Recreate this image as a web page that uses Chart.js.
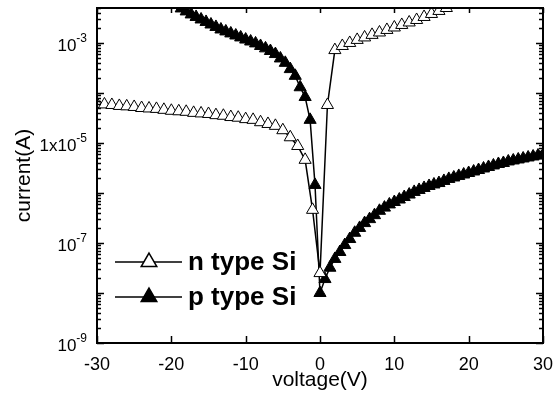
<!DOCTYPE html>
<html>
<head>
<meta charset="utf-8">
<script src="https://cdn.jsdelivr.net/npm/chart.js@4"></script>
<style>
  html, body { margin: 0; padding: 0; background: #fff; }
  #chart { display: block; }
</style>
</head>
<body>
<canvas id="chart" width="554" height="394"></canvas>
<script>
"use strict";

const FONT = "'Liberation Sans', Arial, Helvetica, sans-serif";

// n type Si (open triangles)
const nVolt = [-30, -29, -28, -27, -26, -25, -24, -23, -22, -21, -20, -19, -18, -17, -16, -15,
    -14, -13, -12, -11, -10, -9, -8, -7, -6, -5, -4, -3, -2, -1, 0,
    1, 2, 3, 4, 5, 6, 7, 8, 9, 10, 11, 12, 13, 14, 15, 16, 17, 18];
const nCurr = [6.0e-5, 5.9e-5, 5.75e-5, 5.5e-5, 5.4e-5, 5.25e-5, 5.0e-5, 4.9e-5, 4.8e-5, 4.6e-5,
    4.4e-5, 4.3e-5, 4.2e-5, 4.0e-5, 3.9e-5, 3.8e-5, 3.6e-5, 3.5e-5, 3.3e-5, 3.2e-5,
    3.0e-5, 2.9e-5, 2.6e-5, 2.4e-5, 2.2e-5, 1.8e-5, 1.3e-5, 8.7e-6, 4.6e-6, 4.6e-7, 2.5e-8,
    5.75e-5, 7.2e-4, 8.7e-4, 1.0e-3, 1.15e-3, 1.29e-3, 1.45e-3, 1.62e-3, 1.82e-3, 2.04e-3,
    2.29e-3, 2.57e-3, 2.88e-3, 3.31e-3, 3.8e-3, 4.37e-3, 5.0e-3, 5.75e-3];

// p type Si (filled triangles)
const pVolt = [-20, -19.33, -18.67, -18, -17.33, -16.67, -16, -15.33, -14.67, -14, -13.33, -12.67,
    -12, -11.33, -10.67, -10, -9.33, -8.67, -8, -7.33, -6.67, -6, -5.33, -4.67, -4, -3.33,
    -2.67, -2, -1.33, -0.67, 0,
    0.67, 1.33, 2, 2.67, 3.33, 4, 4.67, 5.33, 6, 6.67, 7.33, 8, 8.67, 9.33, 10, 10.67, 11.33,
    12, 12.67, 13.33, 14, 14.67, 15.33, 16, 16.67, 17.33, 18, 18.67, 19.33, 20, 20.67, 21.33,
    22, 22.67, 23.33, 24, 24.67, 25.33, 26, 26.67, 27.33, 28, 28.67, 29.33, 30];
const pCurr = [6.6e-3, 5.75e-3, 4.9e-3, 4.27e-3, 3.72e-3, 3.31e-3, 2.95e-3, 2.63e-3, 2.34e-3, 2.09e-3,
    1.86e-3, 1.70e-3, 1.55e-3, 1.41e-3, 1.29e-3, 1.17e-3, 1.07e-3, 9.8e-4, 8.7e-4, 7.8e-4,
    6.9e-4, 6.0e-4, 4.9e-4, 4.0e-4, 3.0e-4, 2.2e-4, 1.3e-4, 8.3e-5, 2.9e-5, 1.45e-6, 1.0e-8,
    1.9e-8, 3.2e-8, 4.8e-8, 6.6e-8, 9.1e-8, 1.2e-7, 1.6e-7, 2.0e-7, 2.5e-7, 3.0e-7, 3.6e-7,
    4.4e-7, 5.1e-7, 5.9e-7, 6.6e-7, 7.4e-7, 8.3e-7, 9.3e-7, 1.05e-6, 1.15e-6, 1.26e-6, 1.38e-6,
    1.48e-6, 1.58e-6, 1.74e-6, 1.91e-6, 2.04e-6, 2.19e-6, 2.34e-6, 2.51e-6, 2.69e-6, 2.88e-6,
    3.09e-6, 3.31e-6, 3.55e-6, 3.8e-6, 3.98e-6, 4.27e-6, 4.47e-6, 4.68e-6, 4.9e-6, 5.13e-6,
    5.37e-6, 5.62e-6, 5.75e-6];

const xTicks = [-30, -20, -10, 0, 10, 20, 30];
// labelled y ticks: value, base text, exponent text
const yLabels = [[1e-9, '10', '-9'], [1e-7, '10', '-7'], [1e-5, '1x10', '-5'], [1e-3, '10', '-3']];
const yDecades = [-9, -8, -7, -6, -5, -4, -3];
const Y_MIN = 1e-9;
const Y_MAX = 5e-3;

const legendItems = [['n type Si', '#ffffff'], ['p type Si', '#000000']];

const toPoints = (xs, ys) => xs.map((x, i) => ({x: x, y: ys[i]}));

/**
 * frame, inward ticks, y labels with exponents
 */
const framePlugin = {
    id: 'frame',
    afterDraw(chart) {
        const ctx = chart.ctx;
        const {left, right, top, bottom} = chart.chartArea;
        const xs = chart.scales.x;
        const ys = chart.scales.y;
        ctx.save();
        ctx.strokeStyle = '#000';
        ctx.lineWidth = 1.5;

        ctx.beginPath();
        yDecades.forEach(e => {
            for (let m = 1; m <= 9; m++) {
                const v = m * Math.pow(10, e);
                if (v < Y_MIN || v > Y_MAX) continue;
                const y = Math.round(ys.getPixelForValue(v)) + 0.5;
                const len = m === 1 ? 7 : 4;
                ctx.moveTo(left, y);
                ctx.lineTo(left + len, y);
                ctx.moveTo(right, y);
                ctx.lineTo(right - len, y);
            }
        });
        xTicks.forEach(v => {
            const x = Math.round(xs.getPixelForValue(v)) + 0.5;
            ctx.moveTo(x, bottom);
            ctx.lineTo(x, bottom - 7);
            ctx.moveTo(x, top);
            ctx.lineTo(x, top + 5);
        });
        ctx.stroke();

        ctx.lineWidth = 2;
        ctx.strokeRect(left, top, right - left, bottom - top);

        // y tick labels
        ctx.fillStyle = '#000';
        ctx.textBaseline = 'alphabetic';
        ctx.textAlign = 'left';
        yLabels.forEach(([v, base, exp]) => {
            const y = ys.getPixelForValue(v);
            ctx.font = '12px ' + FONT;
            const ew = ctx.measureText(exp).width;
            ctx.font = '17px ' + FONT;
            const bw = ctx.measureText(base).width;
            const xEnd = left - 10;
            ctx.fillText(base, xEnd - ew - bw, y + 8);
            ctx.font = '12px ' + FONT;
            ctx.fillText(exp, xEnd - ew, y - 1);
        });

        // legend
        legendItems.forEach(([label, fill], i) => {
            const y = 262 + i * 35;
            ctx.lineWidth = 1.5;
            ctx.beginPath();
            ctx.moveTo(115, y);
            ctx.lineTo(182, y);
            ctx.stroke();
            ctx.fillStyle = fill;
            ctx.strokeStyle = '#000';
            Chart.helpers.drawPoint(ctx, {pointStyle: 'triangle', radius: 9, borderWidth: 1, rotation: 0}, 149, y);
            ctx.fillStyle = '#000';
            ctx.font = 'bold 26px ' + FONT;
            ctx.textBaseline = 'middle';
            ctx.fillText(label, 188, y + 1);
        });
        ctx.restore();
    }
};

const ctx = document.getElementById('chart').getContext('2d');
const chart = new Chart(ctx, {
    type: 'scatter',
    data: {
        datasets: [{
            label: 'n type Si',
            data: toPoints(nVolt, nCurr),
            showLine: true,
            borderColor: '#000',
            borderWidth: 1.5,
            pointStyle: 'triangle',
            pointRadius: 7,
            pointBackgroundColor: '#fff',
            pointBorderColor: '#000',
            pointBorderWidth: 1,
            tension: 0,
        }, {
            label: 'p type Si',
            data: toPoints(pVolt, pCurr),
            showLine: true,
            borderColor: '#000',
            borderWidth: 1.5,
            pointStyle: 'triangle',
            pointRadius: 7,
            pointBackgroundColor: '#000',
            pointBorderColor: '#000',
            pointBorderWidth: 1,
            tension: 0,
        }]
    },
    options: {
        responsive: false,
        animation: false,
        devicePixelRatio: 1,
        layout: {
            padding: {left: 0, right: 11, top: 8, bottom: 0}
        },
        plugins: {
            legend: {display: false},
            tooltip: {enabled: false},
        },
        scales: {
            x: {
                type: 'linear',
                min: -30,
                max: 30,
                grid: {display: false, drawTicks: false},
                border: {display: false},
                ticks: {
                    stepSize: 10,
                    color: '#000',
                    padding: 11,
                    font: {size: 18, family: FONT},
                },
                title: {
                    display: true,
                    text: 'voltage(V)',
                    color: '#000',
                    font: {size: 21, family: FONT},
                    padding: {top: 0, bottom: 1},
                },
                afterFit: s => {
                    s.height = 51;
                    s.paddingLeft = 0;
                    s.paddingRight = 0;
                },
            },
            y: {
                type: 'logarithmic',
                min: Y_MIN,
                max: Y_MAX,
                bounds: 'data',
                grid: {display: false, drawTicks: false},
                border: {display: false},
                ticks: {display: false},
                title: {
                    display: true,
                    text: 'current(A)',
                    color: '#000',
                    font: {size: 21, family: FONT},
                    padding: {top: 12, bottom: 0},
                },
                afterFit: s => {
                    s.width = 97;
                    s.paddingTop = 0;
                    s.paddingBottom = 0;
                },
            }
        }
    },
    plugins: [framePlugin]
});
</script>
</body>
</html>
